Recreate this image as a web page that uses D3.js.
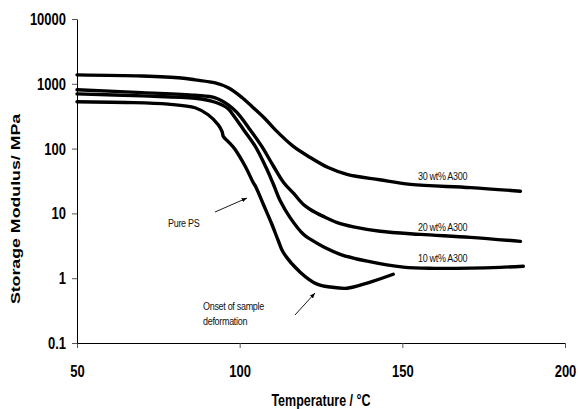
<!DOCTYPE html>
<html>
<head>
<meta charset="utf-8">
<script src="https://cdn.jsdelivr.net/npm/d3@7"></script>
<style>
  body { margin: 0; background: #fff; }
  svg { display: block; }
</style>
</head>
<body>
<svg id="chart" width="578" height="409"></svg>
<script>
// values (temperature in °C, modulus in MPa)
const tempPS = [50, 65, 78, 86.3, 90.3, 93.4, 94.6, 95, 96.5, 98.6, 101.7, 104.2, 104.9, 107.3, 109.9, 111.9, 113.4, 118.6, 123.8, 128, 133, 139.2, 147.2];
const modPS  = [528, 515, 485, 427, 333, 234, 183, 153, 128, 97, 53.4, 29.7, 26, 13.7, 6.8, 3.75, 2.5, 1.24, 0.81, 0.73, 0.70, 0.84, 1.15];

const temp10 = [50, 70, 86.3, 92.5, 96.5, 98, 101.2, 104.8, 108.4, 110.4, 112.5, 115.5, 119.6, 121.7, 126, 130.9, 139.2, 150.3, 160, 170.9, 180, 187.2];
const mod10  = [700, 650, 598, 519, 411, 330, 196, 108, 47.5, 27.9, 15.5, 8.6, 4.75, 4.0, 3.0, 2.34, 1.83, 1.48, 1.42, 1.43, 1.47, 1.53];

const temp20 = [50, 70, 86.3, 92.5, 96.5, 99.2, 103.2, 106.8, 110.4, 113.5, 116.6, 119.6, 121.7, 125.7, 130, 135, 143.2, 155.5, 170.9, 186.3];
const mod20  = [810, 730, 665, 609, 474, 358, 196, 108, 53.4, 30, 20.3, 13.7, 11.5, 9.0, 7.2, 6.2, 5.3, 4.75, 4.27, 3.7];

const temp30 = [50, 70, 82, 86.3, 92.5, 96.5, 100.8, 104.8, 107.8, 110.9, 116.5, 121.7, 127.2, 133, 143, 152.5, 171, 186.3];
const mod30  = [1375, 1320, 1230, 1150, 1030, 870, 610, 400, 289, 196, 108, 73, 51, 40, 33, 28, 25, 22];

const xTicks = [50, 100, 150, 200];
const yTicks = [0.1, 1, 10, 100, 1000, 10000];

const seriesNames = ["30 wt% A300", "20 wt% A300", "10 wt% A300"];

const svg = d3.select("#chart");
const stretch = 1.3; // the picture text looks stretched up/down

const x = d3.scaleLinear().domain([50, 200]).range([77, 565]);
const y = d3.scaleLog().domain([0.1, 10000]).range([343, 19]);

// axes
const xAxis = svg.append("g")
  .attr("transform", "translate(0,343)")
  .call(d3.axisBottom(x).tickValues(xTicks).tickSize(5).tickSizeOuter(0).tickFormat(d3.format("d")));
xAxis.select(".domain").attr("stroke", "#000");
xAxis.selectAll(".tick line").attr("stroke", "#555");
xAxis.selectAll(".tick text")
  .attr("y", 26).attr("dy", 0)
  .attr("transform", `scale(1,${stretch})`)
  .attr("font-family", "'Liberation Sans', Arial, sans-serif")
  .attr("font-size", 13).attr("font-weight", "bold").attr("fill", "#000");

const yAxis = svg.append("g")
  .attr("transform", "translate(77,0)")
  .call(d3.axisLeft(y).tickValues(yTicks).tickSize(5).tickSizeOuter(0).tickPadding(6)
    .tickFormat(d => d < 1 ? "0.1" : d3.format("d")(d)));
yAxis.select(".domain").attr("stroke", "#000");
yAxis.selectAll(".tick line").attr("stroke", "#555");
yAxis.selectAll(".tick text")
  .attr("transform", `scale(1,${stretch})`)
  .attr("font-family", "'Liberation Sans', Arial, sans-serif")
  .attr("font-size", 13).attr("font-weight", "bold").attr("fill", "#000");

// axis titles
svg.append("text")
  .attr("transform", `translate(321,406) scale(1,${stretch})`)
  .attr("text-anchor", "middle")
  .attr("font-family", "'Liberation Sans', Arial, sans-serif")
  .attr("font-size", 12.5).attr("font-weight", "bold")
  .text("Temperature / °C");

svg.append("text")
  .attr("transform", "translate(20,209) rotate(-90) scale(1.42,1)")
  .attr("text-anchor", "middle")
  .attr("font-family", "'Liberation Sans', Arial, sans-serif")
  .attr("font-size", 12.5).attr("font-weight", "bold")
  .text("Storage Modulus/ MPa");

// curves
const line = d3.line()
  .x(d => x(d[0]))
  .y(d => y(d[1]))
  .curve(d3.curveCatmullRom.alpha(0.5));

const curves = [
  [tempPS, modPS],
  [temp10, mod10],
  [temp20, mod20],
  [temp30, mod30]
];

svg.append("g").selectAll("path")
  .data(curves)
  .join("path")
  .attr("d", c => line(d3.zip(c[0], c[1])))
  .attr("fill", "none")
  .attr("stroke", "#000")
  .attr("stroke-width", 3.4)
  .attr("stroke-linecap", "round")
  .attr("stroke-linejoin", "round");

// labels
function label(tx, ty, s) {
  svg.append("text")
    .attr("transform", `translate(${tx},${ty}) scale(1,${stretch})`)
    .attr("font-family", "'Liberation Sans', Arial, sans-serif")
    .attr("font-size", 9)
    .attr("letter-spacing", -0.3)
    .attr("fill", "#111")
    .text(s);
}
label(418, 180, seriesNames[0]);
label(418, 231, seriesNames[1]);
label(418, 262, seriesNames[2]);
label(168, 227, "Pure PS");
label(203, 310, "Onset of sample");
label(203, 325, "deformation");

// arrows
svg.append("defs").append("marker")
  .attr("id", "head")
  .attr("viewBox", "0 0 10 10")
  .attr("refX", 10).attr("refY", 5)
  .attr("markerWidth", 6).attr("markerHeight", 6)
  .attr("orient", "auto")
  .append("path")
  .attr("d", "M0,1 L10,5 L0,9 Z")
  .attr("fill", "#000");

const arrows = [
  [[215, 212], [247, 198]],
  [[295, 315], [315, 293]]
];
svg.append("g").selectAll("line")
  .data(arrows)
  .join("line")
  .attr("x1", d => d[0][0]).attr("y1", d => d[0][1])
  .attr("x2", d => d[1][0]).attr("y2", d => d[1][1])
  .attr("stroke", "#000")
  .attr("stroke-width", 0.9)
  .attr("marker-end", "url(#head)");
</script>
</body>
</html>
